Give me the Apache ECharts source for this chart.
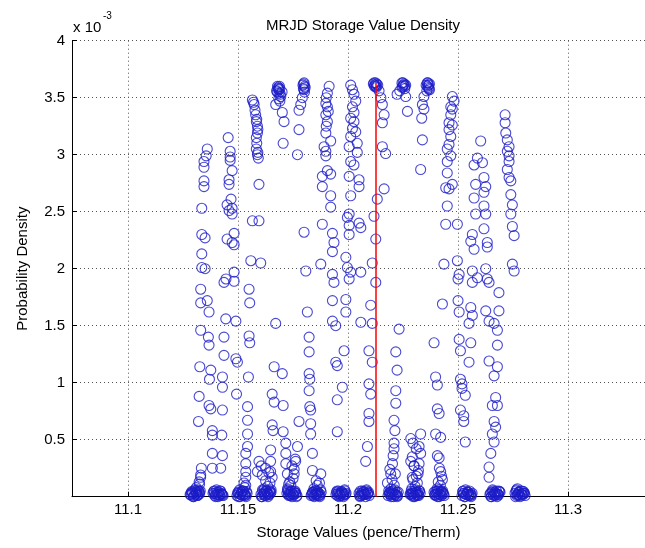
<!DOCTYPE html>
<html>
<head>
<meta charset="utf-8">
<title>MRJD Storage Value Density</title>
<script src="https://cdn.jsdelivr.net/npm/echarts@6/dist/echarts.min.js"></script>
<style>
  html, body { margin: 0; padding: 0; background: #fff; }
  #chart { width: 645px; height: 548px; }
</style>
</head>
<body>
<div id="chart"></div>
<script>
// Simulated storage values (pence/therm) and their estimated probability density.
// Density values are stored in units of 1e-3.
const xTicks = [11.1, 11.15, 11.2, 11.25, 11.3];
const yTicks = [0.5, 1, 1.5, 2, 2.5, 3, 3.5, 4];

const colA = [
  [11.1360,3.05],[11.1355,2.99],[11.1345,2.94],[11.1345,2.89],[11.1345,2.77],[11.1345,2.72],[11.1335,2.53],
  [11.1335,2.30],[11.1350,2.27],[11.1335,2.13],[11.1335,2.01],[11.1350,2.00],[11.1330,1.82],[11.1360,1.72],
  [11.1330,1.70],[11.1368,1.62],[11.1330,1.46],[11.1365,1.40],[11.1368,1.33],[11.1326,1.14],[11.1376,1.11],
  [11.1370,1.03],[11.1323,0.88],[11.1368,0.80],[11.1376,0.77],[11.1320,0.66],[11.1383,0.58],[11.1383,0.54],
  [11.1383,0.38],[11.1333,0.25],[11.1383,0.25],[11.1330,0.17],[11.1323,0.13]
];
const colB = [
  [11.1455,3.15],[11.1464,3.03],[11.1464,2.98],[11.1464,2.95],[11.1473,2.86],[11.1459,2.78],[11.1459,2.74],
  [11.1468,2.61],[11.1450,2.56],[11.1473,2.53],[11.1459,2.51],[11.1473,2.48],[11.1482,2.31],[11.1450,2.26],
  [11.1473,2.23],[11.1482,2.21],[11.1482,1.97],[11.1445,1.91],[11.1482,1.89],[11.1436,1.88],[11.1444,1.56],
  [11.1490,1.54],[11.1436,1.40],[11.1436,1.24],[11.1490,1.21],[11.1497,1.18],[11.1429,1.05],[11.1429,0.96],
  [11.1493,0.90],[11.1429,0.76],[11.1426,0.54],[11.1429,0.36],[11.1421,0.25]
];
const colC = [
  [11.1565,3.48],[11.1570,3.46],[11.1573,3.44],[11.1577,3.39],[11.1580,3.35],[11.1585,3.31],[11.1583,3.29],
  [11.1588,3.25],[11.1590,3.22],[11.1588,3.19],[11.1583,3.15],[11.1585,3.10],[11.1583,3.05],[11.1590,3.02],
  [11.1588,3.00],[11.1592,2.97],[11.1595,2.74],[11.1565,2.42],[11.1595,2.42],[11.1558,2.07],[11.1603,2.05],
  [11.1550,1.82],[11.1553,1.70],[11.1550,1.41],[11.1553,1.35],[11.1547,1.05],[11.1543,0.79],[11.1543,0.67],
  [11.1543,0.55],[11.1543,0.44],[11.1535,0.38],[11.1535,0.29],[11.1535,0.22],[11.1535,0.17],[11.1527,0.12]
];
const colD = [
  [11.1679,3.60],[11.1683,3.59],[11.1690,3.58],[11.1686,3.57],[11.1675,3.56],[11.1700,3.55],[11.1686,3.54],
  [11.1694,3.51],[11.1685,3.49],[11.1690,3.47],[11.1671,3.44],[11.1701,3.37],[11.1709,3.29],[11.1705,3.10],
  [11.1671,1.52],[11.1664,1.14],[11.1701,1.08],[11.1655,0.90],[11.1664,0.83],[11.1705,0.80],[11.1655,0.63],
  [11.1659,0.58],[11.1705,0.57],[11.1648,0.41],[11.1648,0.31],[11.1648,0.22],[11.1595,0.31],[11.1588,0.22]
];
const colE = [
  [11.1800,3.63],[11.1795,3.61],[11.1805,3.59],[11.1800,3.57],[11.1792,3.50],[11.1785,3.44],[11.1777,3.39],
  [11.1777,3.22],[11.1770,3.00],[11.1800,2.32],[11.1808,1.98],[11.1815,1.62],[11.1823,1.40],[11.1823,1.27],
  [11.1823,1.08],[11.1826,1.03],[11.1823,0.93],[11.1826,0.79],[11.1830,0.76],[11.1777,0.66],[11.1830,0.64],
  [11.1830,0.55],[11.1770,0.44],[11.1838,0.38],[11.1762,0.31],[11.1838,0.23],[11.1876,0.20],[11.1755,0.20],
  [11.1717,0.47],[11.1717,0.38],[11.1717,0.29],[11.1724,0.20]
];
const colF = [
  [11.1914,3.60],[11.1906,3.54],[11.1901,3.50],[11.1899,3.45],[11.1906,3.42],[11.1910,3.38],[11.1899,3.35],
  [11.1906,3.29],[11.1901,3.25],[11.1899,3.19],[11.1921,3.12],[11.1891,3.07],[11.1899,3.03],[11.1899,2.99],
  [11.1906,2.86],[11.1921,2.83],[11.1883,2.81],[11.1883,2.72],[11.1921,2.64],[11.1921,2.54],[11.1883,2.39],
  [11.1929,2.31],[11.1936,2.23],[11.1929,2.15],[11.1876,2.04],[11.1929,1.95],[11.1936,1.88],[11.1929,1.72],
  [11.1990,1.73],[11.1990,1.62],[11.1929,1.54],[11.1944,1.50],[11.1982,1.28],[11.1944,1.18],[11.1951,1.15],
  [11.1974,0.96],[11.1951,0.85],[11.1951,0.57]
];
const colG = [
  [11.2012,3.61],[11.2020,3.57],[11.2027,3.53],[11.2035,3.47],[11.2020,3.42],[11.2027,3.37],[11.2012,3.32],
  [11.2027,3.29],[11.2020,3.23],[11.2035,3.20],[11.2012,3.16],[11.2042,3.10],[11.2005,3.07],[11.2042,3.02],
  [11.2012,2.94],[11.2027,2.91],[11.2005,2.81],[11.2050,2.78],[11.2050,2.72],[11.2012,2.64],[11.2005,2.48],
  [11.1997,2.45],[11.2050,2.40],[11.2005,2.38],[11.2058,2.36],[11.2005,2.30],[11.1990,2.10],[11.1997,2.01],
  [11.2012,1.97],[11.2058,1.97],[11.2005,1.91]
];
const colH = [
  [11.2125,3.63],[11.2115,3.62],[11.2135,3.61],[11.2120,3.60],[11.2128,3.59],[11.2141,3.56],[11.2149,3.50],
  [11.2156,3.44],[11.2164,3.35],[11.2156,3.28],[11.2156,3.07],[11.2171,3.01],[11.2164,2.70],[11.2133,2.61],
  [11.2118,2.46],[11.2126,2.26],[11.2110,2.05],[11.2126,1.88],[11.2103,1.68],[11.2058,1.53],[11.2110,1.52],
  [11.2095,1.28],[11.2110,1.18],[11.2095,0.99],[11.2103,0.90],[11.2095,0.73],[11.2095,0.66],[11.2088,0.44],
  [11.2080,0.31]
];
const colI = [
  [11.2245,3.63],[11.2255,3.62],[11.2262,3.61],[11.2248,3.60],[11.2258,3.58],[11.2235,3.56],[11.2223,3.53],
  [11.2262,3.51],[11.2270,3.38],[11.2232,1.47],[11.2217,1.27],[11.2223,1.11],[11.2217,0.93],[11.2217,0.82],
  [11.2209,0.67],[11.2213,0.58],[11.2209,0.47],[11.2209,0.42],[11.2202,0.29],[11.2194,0.20],[11.2179,0.12]
];
const colJ = [
  [11.2360,3.63],[11.2370,3.62],[11.2355,3.61],[11.2365,3.59],[11.2370,3.57],[11.2358,3.56],[11.2345,3.51],
  [11.2338,3.44],[11.2345,3.40],[11.2335,3.32],[11.2338,3.13],[11.2330,2.87],[11.2285,0.51],[11.2330,0.55],
  [11.2323,0.44],[11.2292,0.35],[11.2330,0.38],[11.2300,0.27],[11.2323,0.29],[11.2318,0.20],[11.2292,0.17]
];
const colK = [
  [11.2474,3.51],[11.2482,3.47],[11.2467,3.42],[11.2474,3.40],[11.2467,3.35],[11.2459,3.28],[11.2474,3.26],
  [11.2459,3.22],[11.2467,3.16],[11.2459,3.09],[11.2451,3.05],[11.2467,2.99],[11.2451,2.94],[11.2451,2.84],
  [11.2474,2.74],[11.2444,2.71],[11.2459,2.70],[11.2451,2.55],[11.2444,2.39],[11.2497,2.39],[11.2436,2.04],
  [11.2497,2.07],[11.2505,1.95],[11.2500,1.91],[11.2429,1.69],[11.2391,1.35],[11.2398,1.05],[11.2406,0.98],
  [11.2406,0.77],[11.2414,0.73],[11.2398,0.55],[11.2421,0.52],[11.2406,0.36],[11.2414,0.34],[11.2421,0.22],
  [11.2429,0.15]
];
const colL = [
  [11.2603,3.12],[11.2588,2.97],[11.2573,2.91],[11.2611,2.93],[11.2580,2.74],[11.2618,2.80],[11.2626,2.72],
  [11.2573,2.62],[11.2618,2.67],[11.2618,2.55],[11.2580,2.48],[11.2626,2.48],[11.2618,2.35],[11.2565,2.30],
  [11.2558,2.24],[11.2633,2.23],[11.2573,2.17],[11.2633,2.19],[11.2565,1.98],[11.2626,2.00],[11.2588,1.92],
  [11.2633,1.91],[11.2565,1.88],[11.2500,1.72],[11.2558,1.66],[11.2505,1.62],[11.2565,1.59],[11.2550,1.52],
  [11.2505,1.38],[11.2558,1.35],[11.2511,1.28],[11.2550,1.18],[11.2511,1.03],[11.2518,0.99],[11.2518,0.95],
  [11.2533,0.89],[11.2511,0.76],[11.2526,0.71],[11.2526,0.66],[11.2533,0.48]
];
const colM = [
  [11.2714,3.35],[11.2714,3.28],[11.2717,3.19],[11.2724,3.13],[11.2732,3.07],[11.2724,3.03],[11.2732,2.99],
  [11.2732,2.94],[11.2724,2.87],[11.2732,2.80],[11.2740,2.77],[11.2740,2.65],[11.2747,2.56],[11.2740,2.48],
  [11.2747,2.37],[11.2755,2.29],[11.2747,2.04],[11.2755,1.98],[11.2641,1.88],[11.2686,1.79],[11.2626,1.63],
  [11.2686,1.63],[11.2641,1.54],[11.2664,1.52],[11.2679,1.46],[11.2679,1.33],[11.2641,1.19],[11.2679,1.14],
  [11.2664,1.06],[11.2671,0.87],[11.2656,0.80],[11.2679,0.80],[11.2664,0.66],[11.2671,0.61],[11.2656,0.55],
  [11.2664,0.48],[11.2649,0.38],[11.2641,0.26],[11.2641,0.17]
];

// Crowded tops of the central columns
const capPoints = [
  [11.1682,3.58],[11.1688,3.60],[11.1678,3.55],[11.1692,3.53],
  [11.1798,3.62],[11.1803,3.60],[11.1797,3.58],[11.1802,3.55],
  [11.2118,3.63],[11.2130,3.62],[11.2122,3.61],[11.2127,3.60],
  [11.2250,3.63],[11.2252,3.61],[11.2258,3.60],[11.2245,3.59],
  [11.2363,3.63],[11.2366,3.61],[11.2360,3.60],[11.2368,3.58]
];

// Near-zero density clumps along the bottom of the distribution
const baseClusters = [
  [11.1282,0.02],[11.1291,0.04],[11.1300,0.01],[11.1310,0.03],[11.1319,0.02],[11.1328,0.05],
  [11.1386,0.03],[11.1395,0.01],[11.1404,0.04],[11.1414,0.02],[11.1423,0.03],[11.1432,0.01],
  [11.1495,0.01],[11.1504,0.03],[11.1513,0.02],[11.1523,0.05],[11.1532,0.01],[11.1541,0.03],
  [11.1604,0.02],[11.1613,0.05],[11.1622,0.01],[11.1632,0.03],[11.1641,0.02],[11.1650,0.04],
  [11.1722,0.03],[11.1731,0.01],[11.1740,0.04],[11.1750,0.02],[11.1759,0.05],[11.1768,0.01],
  [11.1832,0.01],[11.1841,0.04],[11.1850,0.02],[11.1860,0.03],[11.1869,0.01],[11.1878,0.04],
  [11.1945,0.02],[11.1954,0.03],[11.1963,0.01],[11.1973,0.04],[11.1982,0.02],[11.1991,0.03],
  [11.2050,0.03],[11.2059,0.01],[11.2068,0.04],[11.2078,0.02],[11.2087,0.03],[11.2096,0.01],
  [11.2182,0.01],[11.2191,0.04],[11.2200,0.02],[11.2210,0.03],[11.2219,0.01],[11.2228,0.04],
  [11.2282,0.02],[11.2291,0.03],[11.2300,0.01],[11.2310,0.04],[11.2319,0.02],[11.2328,0.03],
  [11.2391,0.04],[11.2400,0.01],[11.2409,0.03],[11.2419,0.02],[11.2428,0.04],[11.2437,0.01],
  [11.2518,0.01],[11.2527,0.03],[11.2536,0.02],[11.2546,0.04],[11.2555,0.01],[11.2564,0.03],
  [11.2645,0.02],[11.2654,0.04],[11.2663,0.01],[11.2673,0.03],[11.2682,0.02],[11.2691,0.04],
  [11.2759,0.03],[11.2768,0.01],[11.2777,0.04],[11.2787,0.02],[11.2796,0.03],[11.2805,0.01],
  [11.1287,0.03],[11.1296,0.00],[11.1305,0.05],[11.1314,0.01],[11.1324,0.04],
  [11.1391,0.05],[11.1400,0.02],[11.1409,0.00],[11.1418,0.05],[11.1427,0.02],
  [11.1500,0.04],[11.1509,0.00],[11.1518,0.05],[11.1527,0.02],[11.1536,0.00],
  [11.1609,0.00],[11.1618,0.03],[11.1627,0.05],[11.1636,0.00],[11.1645,0.05],
  [11.1727,0.05],[11.1736,0.02],[11.1745,0.00],[11.1754,0.04],[11.1763,0.03],
  [11.1837,0.03],[11.1846,0.00],[11.1855,0.05],[11.1864,0.01],[11.1873,0.02],
  [11.1950,0.05],[11.1959,0.00],[11.1968,0.03],[11.1977,0.01],[11.1986,0.05],
  [11.2055,0.00],[11.2064,0.05],[11.2073,0.02],[11.2082,0.05],[11.2091,0.03],
  [11.2187,0.03],[11.2196,0.00],[11.2205,0.05],[11.2214,0.02],[11.2223,0.00],
  [11.2287,0.05],[11.2296,0.00],[11.2305,0.04],[11.2314,0.01],[11.2323,0.05],
  [11.2396,0.02],[11.2405,0.05],[11.2414,0.00],[11.2423,0.05],[11.2432,0.03],
  [11.2523,0.05],[11.2532,0.00],[11.2541,0.04],[11.2550,0.02],[11.2559,0.00],
  [11.2650,0.00],[11.2659,0.05],[11.2668,0.03],[11.2677,0.00],[11.2686,0.05],
  [11.2764,0.05],[11.2773,0.02],[11.2782,0.00],[11.2791,0.05],[11.2800,0.03],
  [11.1285,0.015],[11.1289,0.045],[11.1294,0.03],[11.1298,0.00],[11.1303,0.06],
  [11.1307,0.02],[11.1312,0.04],[11.1316,0.01],[11.1321,0.05],[11.1325,0.025],
  [11.1389,0.045],[11.1393,0.03],[11.1398,0.00],[11.1402,0.06],[11.1407,0.02],
  [11.1411,0.04],[11.1416,0.01],[11.1420,0.05],[11.1425,0.025],[11.1429,0.015],
  [11.1498,0.03],[11.1502,0.00],[11.1507,0.06],[11.1511,0.02],[11.1516,0.04],
  [11.1520,0.01],[11.1525,0.05],[11.1529,0.025],[11.1534,0.015],[11.1538,0.045],
  [11.1607,0.00],[11.1611,0.06],[11.1616,0.02],[11.1620,0.04],[11.1625,0.01],
  [11.1629,0.05],[11.1634,0.025],[11.1638,0.015],[11.1643,0.045],[11.1647,0.03],
  [11.1725,0.06],[11.1729,0.02],[11.1734,0.04],[11.1738,0.01],[11.1743,0.05],
  [11.1747,0.025],[11.1752,0.015],[11.1756,0.045],[11.1761,0.03],[11.1765,0.00],
  [11.1835,0.02],[11.1839,0.04],[11.1844,0.01],[11.1848,0.05],[11.1853,0.025],
  [11.1857,0.015],[11.1862,0.045],[11.1866,0.03],[11.1871,0.00],[11.1875,0.06],
  [11.1948,0.04],[11.1952,0.01],[11.1957,0.05],[11.1961,0.025],[11.1966,0.015],
  [11.1970,0.045],[11.1975,0.03],[11.1979,0.00],[11.1984,0.06],[11.1988,0.02],
  [11.2053,0.01],[11.2057,0.05],[11.2062,0.025],[11.2066,0.015],[11.2071,0.045],
  [11.2075,0.03],[11.2080,0.00],[11.2084,0.06],[11.2089,0.02],[11.2093,0.04],
  [11.2185,0.05],[11.2189,0.025],[11.2194,0.015],[11.2198,0.045],[11.2203,0.03],
  [11.2207,0.00],[11.2212,0.06],[11.2216,0.02],[11.2221,0.04],[11.2225,0.01],
  [11.2285,0.025],[11.2289,0.015],[11.2294,0.045],[11.2298,0.03],[11.2303,0.00],
  [11.2307,0.06],[11.2312,0.02],[11.2316,0.04],[11.2321,0.01],[11.2325,0.05],
  [11.2394,0.015],[11.2398,0.045],[11.2403,0.03],[11.2407,0.00],[11.2412,0.06],
  [11.2416,0.02],[11.2421,0.04],[11.2425,0.01],[11.2430,0.05],[11.2434,0.025],
  [11.2521,0.045],[11.2525,0.03],[11.2530,0.00],[11.2534,0.06],[11.2539,0.02],
  [11.2543,0.04],[11.2548,0.01],[11.2552,0.05],[11.2557,0.025],[11.2561,0.015],
  [11.2648,0.03],[11.2652,0.00],[11.2657,0.06],[11.2661,0.02],[11.2666,0.04],
  [11.2670,0.01],[11.2675,0.05],[11.2679,0.025],[11.2684,0.015],[11.2688,0.045],
  [11.2762,0.00],[11.2766,0.06],[11.2771,0.02],[11.2775,0.04],[11.2780,0.01],
  [11.2784,0.05],[11.2789,0.025],[11.2793,0.015],[11.2798,0.045],[11.2802,0.03]
];

// Dense low-density stacks rising out of some clumps
const lowStacks = [
  [11.1310,0.08],[11.1325,0.11],[11.1315,0.06],[11.1330,0.19],
  [11.1530,0.08],[11.1535,0.10],
  [11.1620,0.07],[11.1635,0.09],[11.1645,0.12],[11.1625,0.14],[11.1655,0.17],[11.1610,0.19],
  [11.1640,0.21],[11.1625,0.25],[11.1605,0.27],[11.1650,0.06],
  [11.1725,0.07],[11.1740,0.10],[11.1735,0.13],[11.1750,0.16],[11.1755,0.24],[11.1745,0.27],
  [11.1760,0.33],[11.1730,0.11],
  [11.1845,0.07],[11.1860,0.10],[11.1855,0.14],[11.1870,0.12],
  [11.2195,0.07],[11.2210,0.10],[11.2200,0.15],[11.2215,0.20],[11.2190,0.24],[11.2205,0.36],
  [11.2290,0.07],[11.2305,0.09],[11.2315,0.12],[11.2295,0.15],[11.2310,0.18],[11.2320,0.23],
  [11.2300,0.27],[11.2285,0.31],[11.2310,0.42],[11.2295,0.47],
  [11.2405,0.07],[11.2420,0.10],[11.2410,0.13],[11.2425,0.18],[11.2415,0.25],
  [11.2770,0.07]
];

// Mean storage value, drawn as a vertical marker up to the peak density
const meanStorageValue = 11.2125;
const meanMarkerTop = 3.63;

const densityPoints = [].concat(colA, colB, colC, colD, colE, colF, colG, colH,
  colI, colJ, colK, colL, colM, capPoints, baseClusters, lowStacks);

const FONT = '"Liberation Sans", Arial, Helvetica, sans-serif';
const TEXT_SIZE = 15;

const chart = echarts.init(document.getElementById('chart'), null, { renderer: 'canvas' });

const gridLine = { show: true, lineStyle: { color: '#555', width: 1, type: [1, 3] } };

chart.setOption({
  animation: false,
  backgroundColor: '#ffffff',
  title: {
    text: 'MRJD Storage Value Density',
    left: 358,
    top: 13,
    textAlign: 'center',
    textStyle: { fontFamily: FONT, fontSize: TEXT_SIZE, fontWeight: 'normal', color: '#000' }
  },
  graphic: [
    { type: 'text', left: 73, top: 20, style: { text: 'x 10', font: '15px ' + FONT, fill: '#000' } },
    { type: 'text', left: 103, top: 11, style: { text: '-3', font: '10px ' + FONT, fill: '#000' } }
  ],
  grid: { left: 72, right: 0, top: 40.7, bottom: 51.3, containLabel: false },
  xAxis: {
    type: 'value',
    min: 11.0745,
    max: 11.335,
    name: 'Storage Values (pence/Therm)',
    nameLocation: 'middle',
    nameGap: 29,
    nameTextStyle: { fontFamily: FONT, fontSize: TEXT_SIZE, color: '#000' },
    axisLine: { show: true, lineStyle: { color: '#000', width: 1 } },
    axisTick: { show: true, inside: true, length: 5, lineStyle: { color: '#000' }, customValues: xTicks },
    axisLabel: { customValues: xTicks, fontFamily: FONT, fontSize: TEXT_SIZE, color: '#000', margin: 6 },
    splitLine: gridLine
  },
  yAxis: {
    type: 'value',
    min: 0,
    max: 4,
    interval: 0.5,
    name: 'Probability Density',
    nameLocation: 'middle',
    nameGap: 42,
    nameTextStyle: { fontFamily: FONT, fontSize: TEXT_SIZE, color: '#000' },
    axisLine: { show: true, lineStyle: { color: '#000', width: 1 } },
    axisTick: { show: true, inside: true, length: 5, lineStyle: { color: '#000' } },
    axisLabel: {
      fontFamily: FONT, fontSize: TEXT_SIZE, color: '#000', margin: 7,
      formatter: v => (yTicks.indexOf(v) >= 0 ? String(v) : '')
    },
    splitLine: gridLine
  },
  series: [
    {
      type: 'scatter',
      data: densityPoints,
      symbol: 'circle',
      symbolSize: 10,
      itemStyle: { color: 'rgba(0,0,0,0)', borderColor: '#1c1cc8', borderWidth: 1.1 },
      emphasis: { disabled: true },
      clip: false,
      z: 2,
      markLine: {
        silent: true,
        symbol: ['none', 'none'],
        label: { show: false },
        lineStyle: { color: '#ff0000', width: 1.5, type: 'solid', opacity: 1 },
        emphasis: { disabled: true },
        data: [[{ coord: [meanStorageValue, 0] }, { coord: [meanStorageValue, meanMarkerTop] }]],
        z: 10
      }
    }
  ]
});
</script>
</body>
</html>
